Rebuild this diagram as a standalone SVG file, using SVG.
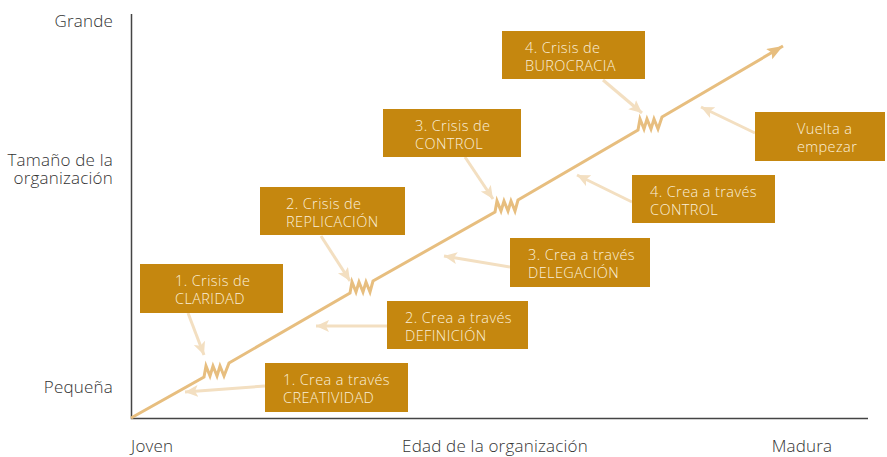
<svg xmlns="http://www.w3.org/2000/svg" width="887" height="457" viewBox="0 0 887 457">
<style>
.box rect{fill:#C5870F}
.box text{font-family:"Open Sans","Noto Sans",sans-serif;font-weight:300;font-size:14.5px;letter-spacing:0.4px;fill:#FBEFD9}
.ax{font-family:"Open Sans","Noto Sans",sans-serif;font-weight:300;font-size:17px;letter-spacing:0.2px;fill:#333}
.axis{stroke:#444;stroke-width:1.5;fill:none}
.main{stroke:#E7BE7F;stroke-width:3;fill:none;stroke-linejoin:miter}
.pale{stroke:#F3DFC1;stroke-width:3;fill:none}
</style>
<defs>
<marker id="mh" markerUnits="userSpaceOnUse" markerWidth="18" markerHeight="14" refX="16" refY="6" orient="auto">
<path d="M0,0 L16,6 L0,12 L3,6 z" fill="#E7BE7F"/>
</marker>
<marker id="ph" markerUnits="userSpaceOnUse" markerWidth="16" markerHeight="14" refX="13" refY="6" orient="auto">
<path d="M0,0 L13,6 L0,12 L3,6 z" fill="#F3DFC1"/>
</marker>
</defs>
<g id="axes">
<path class="axis" d="M131.5,14 L131.5,418.5 L868,418.5"/>
<text class="ax" x="113" y="27" text-anchor="end">Grande</text>
<text class="ax" x="113" y="166" text-anchor="end">Tamaño de la</text>
<text class="ax" x="113" y="184" text-anchor="end">organización</text>
<text class="ax" x="113" y="393" text-anchor="end">Pequeña</text>
<text class="ax" x="131" y="452">Joven</text>
<text class="ax" x="495" y="452" text-anchor="middle">Edad de la organización</text>
<text class="ax" x="802" y="452" text-anchor="middle">Madura</text>
</g>
<g id="connectors">
<path class="main" marker-end="url(#mh)" d="M131,418 L204,377 l2,-11 l4,10 l3,-10 l4,10 l3,-10 l4,10 l5,-13 L350,293 l2,-11 l4,10 l3,-10 l4,10 l3,-10 l4,10 l3,-11 L495,212 l2,-11 l4,10 l3,-10 l4,10 l3,-10 l4,10 l3,-11 L638,130 l2,-11 l4,10 l3,-10 l4,10 l3,-10 l4,10 l4,-12 L783,46"/>
<path class="pale" marker-end="url(#ph)" d="M188,313 L204,355"/>
<path class="pale" marker-end="url(#ph)" d="M265,386 L185,392"/>
<path class="pale" marker-end="url(#ph)" d="M387,326 L316,326"/>
<path class="pale" marker-end="url(#ph)" d="M321,236 L350,281"/>
<path class="pale" marker-end="url(#ph)" d="M510,267 L444,256"/>
<path class="pale" marker-end="url(#ph)" d="M465,157 L493,199"/>
<path class="pale" marker-end="url(#ph)" d="M632,202 L577,175"/>
<path class="pale" marker-end="url(#ph)" d="M603,80 L642,113"/>
<path class="pale" marker-end="url(#ph)" d="M755,133 L701,107"/>
</g>
<g id="crisis1" class="box"><rect x="140" y="264" width="143" height="49"/><text x="175" y="286">1. Crisis de</text><text x="175" y="304">CLARIDAD</text></g>
<g id="crisis2" class="box"><rect x="260" y="187" width="145" height="48"/><text x="286" y="209">2. Crisis de</text><text x="286" y="227">REPLICACIÓN</text></g>
<g id="crisis3" class="box"><rect x="383" y="109" width="138" height="48"/><text x="415" y="131">3. Crisis de</text><text x="415" y="149">CONTROL</text></g>
<g id="crisis4" class="box"><rect x="502" y="31" width="143" height="48"/><text x="525" y="53">4. Crisis de</text><text x="525" y="71">BUROCRACIA</text></g>
<g id="vuelta" class="box"><rect x="755" y="112" width="130" height="49"/><text x="797" y="134">Vuelta a</text><text x="797" y="152">empezar</text></g>
<g id="crea1" class="box"><rect x="265" y="363" width="143" height="49"/><text x="283" y="385">1. Crea a través</text><text x="283" y="403">CREATIVIDAD</text></g>
<g id="crea2" class="box"><rect x="387" y="301" width="141" height="48"/><text x="405" y="323">2. Crea a través</text><text x="405" y="341">DEFINICIÓN</text></g>
<g id="crea3" class="box"><rect x="510" y="238" width="140" height="49"/><text x="528" y="260">3. Crea a través</text><text x="528" y="278">DELEGACIÓN</text></g>
<g id="crea4" class="box"><rect x="632" y="175" width="143" height="48"/><text x="650" y="197">4. Crea a través</text><text x="650" y="215">CONTROL</text></g>
</svg>
